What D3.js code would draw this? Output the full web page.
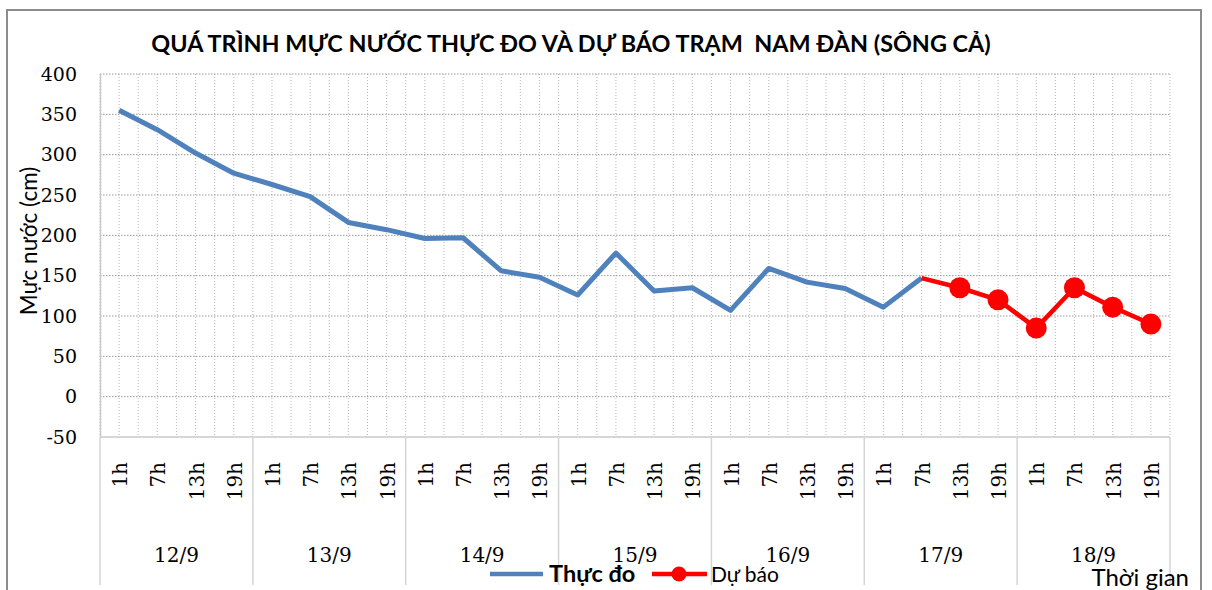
<!DOCTYPE html>
<html>
<head>
<meta charset="utf-8">
<script src="https://cdn.jsdelivr.net/npm/d3@7"></script>
<style>
  body { margin: 0; background: #fff; }
  svg { display: block; }
</style>
</head>
<body>
<div id="container"></div>
<script>
// chart data
const days = ["12/9", "13/9", "14/9", "15/9", "16/9", "17/9", "18/9"];
const hours = ["1h", "7h", "13h", "19h"];
const yTicks = [-50, 0, 50, 100, 150, 200, 250, 300, 350, 400];
// measured water level, 12/9 1h .. 17/9 7h
const observed = [355, 331, 302, 277, 263, 248, 216, 207, 196, 197, 156, 148,
                  126, 178, 131, 135, 107, 159, 142, 134, 111, 147];
// forecast, 17/9 7h .. 18/9 19h
const forecast = [147, 135, 120, 85, 135, 111, 90];
const forecastStart = 21;

const width = 1212, height = 590;
const margin = {left: 100, right: 1170, top: 74, bottom: 437};

const serif = "'DejaVu Serif', serif";
const sans = "Lato, 'Open Sans', sans-serif";

// one key per observation time
let keys = [];
days.forEach(function(d) {
  hours.forEach(function(h) { keys.push(d + " " + h); });
});

let svg = d3.select("#container")
  .append("svg")
  .attr("width", width)
  .attr("height", height);

// outer chart border
svg.append("rect")
  .attr("x", 7).attr("y", 10)
  .attr("width", 1194).attr("height", 600)
  .attr("fill", "none")
  .attr("stroke", "#8c8c8c")
  .attr("stroke-width", 2);

let x = d3.scaleBand()
  .domain(keys)
  .range([margin.left, margin.right])
  .padding(0);
let bw = x.bandwidth();
let cx = function(i) { return x(keys[i]) + bw / 2; };

let y = d3.scaleLinear()
  .domain([-50, 400])
  .range([margin.bottom, margin.top]);

// vertical dotted grid, every half category
let grid = svg.append("g").attr("class", "grid");
let vx = [];
keys.forEach(function(k) { vx.push(x(k)); vx.push(x(k) + bw / 2); });
vx.push(margin.right);
grid.selectAll("line.v")
  .data(vx)
  .enter().append("line")
  .attr("class", "v")
  .attr("x1", function(d) { return d; })
  .attr("x2", function(d) { return d; })
  .attr("y1", margin.top)
  .attr("y2", margin.bottom)
  .attr("stroke", "#b8b8b8")
  .attr("stroke-dasharray", "1,2");

// horizontal dotted grid
grid.selectAll("line.h")
  .data(yTicks.filter(function(t) { return t > -50; }))
  .enter().append("line")
  .attr("class", "h")
  .attr("x1", margin.left)
  .attr("x2", margin.right)
  .attr("y1", function(d) { return y(d); })
  .attr("y2", function(d) { return y(d); })
  .attr("stroke", "#9a9a9a")
  .attr("stroke-dasharray", "1.5,1.5");

// y axis
let yAxis = svg.append("g")
  .attr("transform", "translate(" + margin.left + ",0)")
  .call(d3.axisLeft(y).tickValues(yTicks).tickFormat(String).tickSize(0).tickPadding(23));
yAxis.select(".domain").attr("stroke", "#c8c8c8").attr("stroke-width", 1.5);
yAxis.selectAll("text")
  .attr("font-family", serif)
  .attr("font-size", "19px")
  .attr("fill", "#000");

// bottom axis line
svg.append("line")
  .attr("x1", margin.left).attr("x2", margin.right)
  .attr("y1", margin.bottom).attr("y2", margin.bottom)
  .attr("stroke", "#c8c8c8")
  .attr("stroke-width", 1.5);

// day separators below the plot
let sepX = days.map(function(d) { return x(d + " 1h"); });
sepX.push(margin.right);
svg.selectAll("line.sep")
  .data(sepX)
  .enter().append("line")
  .attr("class", "sep")
  .attr("x1", function(d) { return d; })
  .attr("x2", function(d) { return d; })
  .attr("y1", margin.bottom)
  .attr("y2", 585)
  .attr("stroke", "#d4d4d4")
  .attr("stroke-width", 1.5);

// hour labels, rotated
svg.selectAll("text.hour")
  .data(keys)
  .enter().append("text")
  .attr("class", "hour")
  .attr("transform", function(d) {
    return "translate(" + (x(d) + bw / 2 + 1) + ",462) rotate(-90)";
  })
  .attr("text-anchor", "end")
  .attr("dy", "0.35em")
  .attr("font-family", serif)
  .attr("font-size", "20px")
  .text(function(d) { return d.split(" ")[1]; });

// day labels
svg.selectAll("text.day")
  .data(days)
  .enter().append("text")
  .attr("class", "day")
  .attr("x", function(d) { return x(d + " 1h") + bw * 2; })
  .attr("y", 562)
  .attr("text-anchor", "middle")
  .attr("font-family", serif)
  .attr("font-size", "20px")
  .text(function(d) { return d; });

// series
let line = d3.line()
  .x(function(d) { return cx(d.i); })
  .y(function(d) { return y(d.v); });

let obsData = observed.map(function(v, i) { return {i: i, v: v}; });
let fcData = forecast.map(function(v, i) { return {i: i + forecastStart, v: v}; });

svg.append("path")
  .datum(obsData)
  .attr("d", line)
  .attr("fill", "none")
  .attr("stroke", "#4f81bd")
  .attr("stroke-width", 5)
  .attr("stroke-linejoin", "round");

svg.append("path")
  .datum(fcData)
  .attr("d", line)
  .attr("fill", "none")
  .attr("stroke", "#ff0000")
  .attr("stroke-width", 4.5)
  .attr("stroke-linejoin", "round");

svg.selectAll("circle.fc")
  .data(fcData.slice(1))
  .enter().append("circle")
  .attr("class", "fc")
  .attr("cx", function(d) { return cx(d.i); })
  .attr("cy", function(d) { return y(d.v); })
  .attr("r", 10.5)
  .attr("fill", "#ff0000");

// title
svg.append("text")
  .attr("x", 571)
  .attr("y", 52)
  .attr("text-anchor", "middle")
  .attr("font-family", sans)
  .attr("font-weight", "bold")
  .attr("font-size", "23.4px")
  .style("white-space", "pre")
  .text("QUÁ TRÌNH MỰC NƯỚC THỰC ĐO VÀ DỰ BÁO TRẠM  NAM ĐÀN (SÔNG CẢ)");

// y axis title
svg.append("text")
  .attr("transform", "translate(37,241) rotate(-90)")
  .attr("text-anchor", "middle")
  .attr("font-family", sans)
  .attr("font-size", "22.5px")
  .text("Mực nước (cm)");

// legend
let legend = svg.append("g").attr("class", "legend");
legend.append("line")
  .attr("x1", 490).attr("x2", 543)
  .attr("y1", 574).attr("y2", 574)
  .attr("stroke", "#4f81bd").attr("stroke-width", 4.5);
legend.append("text")
  .attr("x", 549).attr("y", 582)
  .attr("font-family", sans)
  .attr("font-weight", "bold")
  .attr("font-size", "23.5px")
  .text("Thực đo");
legend.append("line")
  .attr("x1", 652).attr("x2", 707)
  .attr("y1", 574).attr("y2", 574)
  .attr("stroke", "#ff0000").attr("stroke-width", 4.5);
legend.append("circle")
  .attr("cx", 679).attr("cy", 574).attr("r", 7.5)
  .attr("fill", "#ff0000");
legend.append("text")
  .attr("x", 711).attr("y", 582)
  .attr("font-family", sans)
  .attr("font-size", "21px")
  .text("Dự báo");

// x axis title
svg.append("text")
  .attr("x", 1189).attr("y", 586)
  .attr("text-anchor", "end")
  .attr("font-family", sans)
  .attr("font-size", "24px")
  .text("Thời gian");
</script>
</body>
</html>
